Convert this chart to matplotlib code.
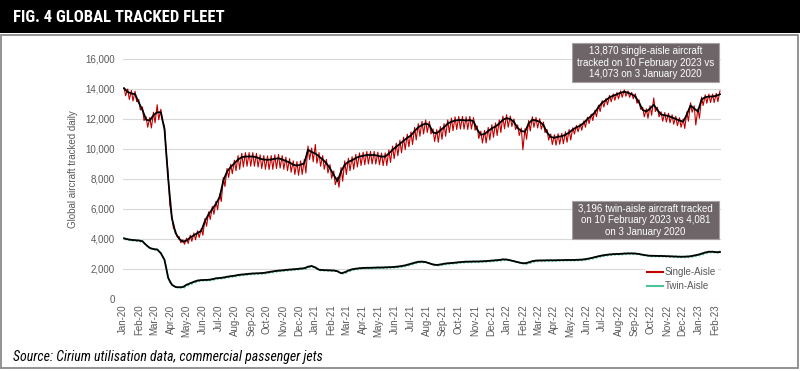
# plot.py
# Global tracked fleet: single-aisle vs twin-aisle aircraft tracked daily
import matplotlib
matplotlib.use('Agg')
import matplotlib.pyplot as plt
import matplotlib.dates as mdates
import matplotlib.ticker as mticker
from matplotlib.patches import Rectangle
from matplotlib.lines import Line2D
import pandas as pd

plt.rcParams['font.family'] = ['Liberation Sans', 'DejaVu Sans']

# weekly samples, first one on Friday 3 January 2020
first_week = '2020-01-03'
low_offset_days = 3   # weekend low, read as the Monday after each Friday

# single-aisle: 7-day average (black), weekday high and weekend low (red)
sa_avg = [14050, 13800, 13700, 13650, 13100, 12600, 11950, 11900, 12250,
          12450, 12450, 11300, 8000, 5400, 4400, 4000, 3820,
          3900, 4100, 4250, 4400, 4550, 5200, 5650, 6000, 6350,
          6800, 7900, 8500, 8800, 9050, 9300, 9450, 9500, 9500,
          9500, 9450, 9350, 9300, 9280, 9300, 9350, 9380, 9300,
          9200, 9100, 8950, 8900, 8950, 9050, 9950, 9800,
          9700, 9500, 9300, 9050, 8700, 8270, 7850, 8500, 8950,
          9150, 9250, 9400, 9500, 9550, 9600, 9600, 9600, 9550,
          9490, 9500, 9700, 9950, 10150, 10350, 10550, 10750,
          10900, 11200, 11450, 11600, 11700, 11600, 11100, 11050, 11250,
          11450, 11700, 11820, 11900, 11930, 11930, 11900, 11930, 11850,
          11300, 10950, 11000, 11200, 11380, 11500, 11700, 11950, 12050,
          12000, 11800, 11400, 11200, 11150, 11700, 11950, 11900,
          11820, 11600, 11100, 10800, 10750, 10820, 10850, 10950, 11100,
          11300, 11450, 11550, 11750, 12000, 12200, 12450, 12800,
          13100, 13250, 13450, 13550, 13650, 13750, 13820, 13750, 13650,
          13500, 13100, 12600, 12500, 12700, 12950, 12600, 12300, 12250,
          12200, 12100, 12000, 11900, 11820, 12300, 12900, 12700, 12500,
          13300, 13450, 13500, 13500, 13550, 13650]
sa_hi = [14073, 14000, 13900, 13850, 13300, 12800, 12150, 12100, 12450,
         12950, 12650, 11500, 8300, 5500, 4550, 4150, 3950,
         4050, 4250, 4400, 4550, 4700, 5360, 5810, 6160, 6510,
         7000, 8100, 8700, 8980, 9250, 9560, 9710, 9760, 9760,
         9760, 9710, 9610, 9560, 9540, 9560, 9610, 9640, 9560,
         9460, 9360, 9210, 9160, 9210, 9310, 10200, 10060,
         10300, 9760, 9560, 9310, 8960, 8530, 8110, 8760, 9210,
         9390, 9490, 9640, 9740, 9790, 9840, 9840, 9840, 9790,
         9730, 9740, 9940, 10190, 10390, 10590, 10790, 10990,
         11140, 11440, 11690, 11840, 11940, 11840, 11340, 11290, 11490,
         11690, 11940, 12060, 12140, 12170, 12170, 12140, 12170, 12090,
         11540, 11190, 11240, 11440, 11620, 11740, 11940, 12190, 12290,
         12200, 12000, 11600, 11400, 11350, 11900, 12150, 12100,
         12020, 11800, 11300, 11000, 10950, 11020, 11050, 11150, 11300,
         11420, 11570, 11670, 11870, 12120, 12320, 12570, 12920,
         13220, 13370, 13570, 13670, 13770, 13870, 13940, 13870, 13770,
         13680, 13280, 12780, 12680, 12880, 13400, 12780, 12480, 12430,
         12380, 12280, 12180, 12080, 12000, 12480, 13080, 12880, 12680,
         13460, 13610, 13660, 13660, 13710, 13870]
sa_lo = [13550, 13300, 13200, 13150, 12600, 11900, 11450, 11400, 11750,
         11950, 11900, 9900, 6300, 4700, 4150, 3750, 3650,
         3700, 3850, 3950, 4100, 4250, 4850, 5300, 5650, 5950,
         6500, 7500, 8100, 8350, 8550, 8650, 8800, 8850, 8850,
         8850, 8800, 8700, 8650, 8630, 8650, 8700, 8730, 8650,
         8550, 8450, 8300, 8250, 8300, 8400, 9300, 9150,
         9050, 8850, 8650, 8400, 8050, 7620, 7450, 7850, 8300,
         8550, 8650, 8800, 8900, 8950, 9000, 9000, 9000, 8950,
         8890, 8900, 9100, 9350, 9550, 9750, 9950, 10150,
         10300, 10600, 10850, 11000, 11100, 11000, 10500, 10450, 10650,
         10850, 11100, 11220, 11300, 11330, 11330, 11300, 11330, 11250,
         10700, 10400, 10400, 10600, 10780, 10900, 11100, 11350, 11450,
         11500, 11300, 10900, 9950, 10650, 11200, 11450, 11400,
         11320, 11100, 10600, 10300, 10250, 10320, 10350, 10450, 10600,
         11000, 11150, 11250, 11450, 11700, 11900, 12150, 12500,
         12800, 12950, 13150, 13250, 13350, 13450, 13520, 13450, 13350,
         13050, 12650, 12150, 12050, 12250, 12500, 12150, 11850, 11800,
         11750, 11650, 11550, 11450, 11370, 11850, 12450, 11600, 12050,
         12900, 13050, 13100, 13100, 13150]

# twin-aisle: 7-day average (black), weekday high and weekend low (teal)
ta_avg = [4040, 3980, 3940, 3920, 3900, 3850, 3600, 3400, 3330,
          3300, 3050, 2600, 1400, 950, 800, 780, 800,
          950, 1050, 1150, 1230, 1260, 1270, 1280, 1320, 1380,
          1400, 1430, 1480, 1520, 1550, 1600, 1630, 1650, 1680,
          1700, 1710, 1720, 1740, 1780, 1820, 1860, 1890, 1910,
          1940, 1960, 1980, 2000, 2030, 2050, 2150, 2200,
          2100, 1950, 1930, 1920, 1910, 1900, 1850, 1720, 1780,
          1900, 1980, 2020, 2050, 2070, 2080, 2080, 2090, 2100,
          2100, 2110, 2120, 2130, 2150, 2180, 2220, 2280,
          2350, 2420, 2480, 2490, 2460, 2380, 2300, 2270, 2300,
          2350, 2380, 2400, 2420, 2450, 2470, 2490, 2490, 2500,
          2500, 2510, 2520, 2540, 2560, 2580, 2600, 2640, 2630,
          2580, 2520, 2460, 2400, 2380, 2440, 2520, 2560,
          2570, 2570, 2580, 2580, 2580, 2590, 2590, 2600, 2600,
          2600, 2610, 2620, 2640, 2680, 2730, 2790, 2850,
          2900, 2940, 2970, 2990, 3000, 3010, 3030, 3040, 3040,
          3030, 3000, 2950, 2910, 2880, 2880, 2870, 2870, 2860,
          2850, 2840, 2830, 2820, 2820, 2830, 2850, 2900, 2950,
          3020, 3100, 3150, 3150, 3120, 3130]
ta_hi = [4081, 4010, 3970, 3950, 3930, 3880, 3630, 3430, 3360,
         3330, 3080, 2650, 1500, 1000, 830, 810, 830,
         980, 1080, 1180, 1260, 1290, 1300, 1310, 1350, 1410,
         1430, 1460, 1510, 1550, 1580, 1630, 1660, 1680, 1710,
         1730, 1740, 1750, 1770, 1810, 1850, 1890, 1920, 1940,
         1970, 1990, 2010, 2030, 2060, 2080, 2190, 2240,
         2140, 1980, 1960, 1950, 1940, 1930, 1880, 1750, 1810,
         1930, 2010, 2050, 2080, 2100, 2110, 2110, 2120, 2130,
         2130, 2140, 2150, 2160, 2180, 2210, 2250, 2310,
         2380, 2450, 2510, 2520, 2490, 2410, 2330, 2300, 2330,
         2380, 2410, 2430, 2450, 2480, 2500, 2520, 2520, 2530,
         2530, 2540, 2550, 2570, 2590, 2610, 2630, 2670, 2660,
         2610, 2550, 2490, 2430, 2410, 2470, 2550, 2590,
         2600, 2600, 2610, 2610, 2610, 2620, 2620, 2630, 2630,
         2630, 2640, 2650, 2670, 2710, 2760, 2820, 2880,
         2930, 2970, 3000, 3020, 3030, 3040, 3060, 3070, 3070,
         3060, 3030, 2980, 2940, 2910, 2910, 2900, 2900, 2890,
         2880, 2870, 2860, 2850, 2850, 2860, 2880, 2930, 2980,
         3050, 3130, 3180, 3180, 3150, 3196]
ta_lo = [3950, 3900, 3860, 3840, 3800, 3700, 3500, 3320, 3250,
         3220, 2900, 2200, 1100, 850, 740, 720, 740,
         880, 980, 1080, 1160, 1190, 1200, 1210, 1250, 1310,
         1330, 1360, 1410, 1450, 1480, 1530, 1560, 1580, 1610,
         1630, 1640, 1650, 1670, 1710, 1750, 1790, 1820, 1840,
         1870, 1890, 1910, 1930, 1960, 1980, 2080, 2100,
         2000, 1880, 1860, 1850, 1840, 1830, 1760, 1660, 1720,
         1830, 1910, 1950, 1980, 2000, 2010, 2010, 2020, 2030,
         2030, 2040, 2050, 2060, 2080, 2110, 2150, 2210,
         2280, 2350, 2410, 2420, 2390, 2310, 2230, 2200, 2230,
         2280, 2310, 2330, 2350, 2380, 2400, 2420, 2420, 2430,
         2430, 2440, 2450, 2470, 2490, 2510, 2530, 2570, 2560,
         2510, 2450, 2390, 2330, 2310, 2370, 2450, 2490,
         2500, 2500, 2510, 2510, 2510, 2520, 2520, 2530, 2530,
         2530, 2540, 2550, 2570, 2610, 2660, 2720, 2780,
         2830, 2870, 2900, 2920, 2930, 2940, 2960, 2970, 2970,
         2960, 2930, 2880, 2840, 2810, 2810, 2800, 2800, 2790,
         2780, 2770, 2760, 2750, 2750, 2760, 2780, 2830, 2880,
         2950, 3030, 3080, 3080, 3050]

note_single = "13,870 single-aisle aircraft\ntracked on 10 February 2023 vs\n14,073 on 3 January 2020"
note_twin = "3,196 twin-aisle aircraft tracked\non 10 February 2023 vs 4,081\non 3 January 2020"

RED = '#c00000'
TEAL = '#4cc4a0'
GREY_TXT = '#595959'
NARROW = ['Roboto Condensed', 'PT Sans Narrow', 'Liberation Sans', 'DejaVu Sans']


def daily(hi, lo, weeks):
    # weekday highs on the Fridays, weekend lows a few days later
    s_hi = pd.Series(hi, index=weeks)
    s_lo = pd.Series(lo, index=weeks[:len(lo)] + pd.Timedelta(days=low_offset_days))
    return pd.concat([s_hi, s_lo]).sort_index()


def px(x, y):
    # figure pixel (from top-left) to figure fraction
    return x / 800.0, 1 - y / 371.0


weeks = pd.date_range(first_week, periods=len(sa_avg), freq='7D')
sa_daily = daily(sa_hi, sa_lo, weeks)
ta_daily = daily(ta_hi, ta_lo, weeks)

fig = plt.figure(figsize=(8, 3.71), dpi=100)

# title bar and panel frame
fig.add_artist(Rectangle(px(0, 33), 1, 33 / 371.0, transform=fig.transFigure,
                         facecolor='black', edgecolor='none'))
fig.add_artist(Rectangle(px(1, 368), 797 / 800.0, 333 / 371.0, transform=fig.transFigure,
                         facecolor='none', edgecolor='#8a8a8a', lw=1.3))
fig.text(*px(13, 18), 'FIG. 4 GLOBAL TRACKED FLEET', color='white', fontsize=12,
         fontweight='bold', family=NARROW, va='center', ha='left')
fig.text(*px(13, 357), 'Source: Cirium utilisation data, commercial passenger jets',
         fontsize=10, style='italic', family=NARROW, va='center', ha='left')

x0, y0 = px(123, 299)
ax = fig.add_axes([x0, y0, 598 / 800.0, 240 / 371.0])

ax.plot(sa_daily.index, sa_daily.values, color=RED, lw=0.8, zorder=3)
ax.plot(ta_daily.index, ta_daily.values, color=TEAL, lw=0.9, zorder=3)
ax.plot(weeks, sa_avg, color='black', lw=1.3, zorder=4)
ax.plot(weeks, ta_avg, color='black', lw=1.3, zorder=4)

ax.set_ylim(0, 16000)
ax.set_yticks(range(0, 16001, 2000))
ax.yaxis.set_major_formatter(mticker.FuncFormatter(lambda v, p: '{:,.0f}'.format(v)))
ax.set_xlim(pd.Timestamp('2020-01-01'), pd.Timestamp('2023-02-12'))
ax.xaxis.set_major_locator(mdates.MonthLocator())
ax.xaxis.set_major_formatter(mdates.DateFormatter('%b-%y'))
ax.tick_params(axis='x', labelrotation=90, pad=4)
ax.tick_params(axis='y', pad=6)
ax.tick_params(length=0, labelsize=7, labelcolor=GREY_TXT)
ax.grid(axis='y', color='#d9d9d9', lw=0.8)
ax.set_axisbelow(True)
for s in ax.spines.values():
    s.set_visible(False)

ax.set_ylabel('Global aircraft tracked daily', fontsize=7, color=GREY_TXT)
ax.yaxis.set_label_coords(-0.075, 0.54)

# note boxes
for top, bottom, note in [(43, 82, note_single), (201, 239, note_twin)]:
    bx, by = px(572, bottom)
    fig.add_artist(Rectangle((bx, by), 147 / 800.0, (bottom - top) / 371.0,
                             transform=fig.transFigure, facecolor='#6d6567',
                             edgecolor='#a8a2a3', lw=0.8, zorder=5))
    fig.text(*px(645.5, (top + bottom) / 2.0), note, color='white', fontsize=7,
             ha='center', va='center', linespacing=1.2, zorder=6)

handles = [Line2D([], [], color=RED, lw=1.5), Line2D([], [], color=TEAL, lw=1.5)]
leg = ax.legend(handles, ['Single-Aisle', 'Twin-Aisle'], loc='upper left',
                bbox_to_anchor=px(645, 265), bbox_transform=fig.transFigure,
                fontsize=7, frameon=True, facecolor='white', edgecolor='none',
                framealpha=1, handlelength=1.6, handletextpad=0.2,
                labelspacing=0.45, borderpad=0.2, borderaxespad=0)
for t in leg.get_texts():
    t.set_color(GREY_TXT)

fig.savefig('out.png', dpi=100)
